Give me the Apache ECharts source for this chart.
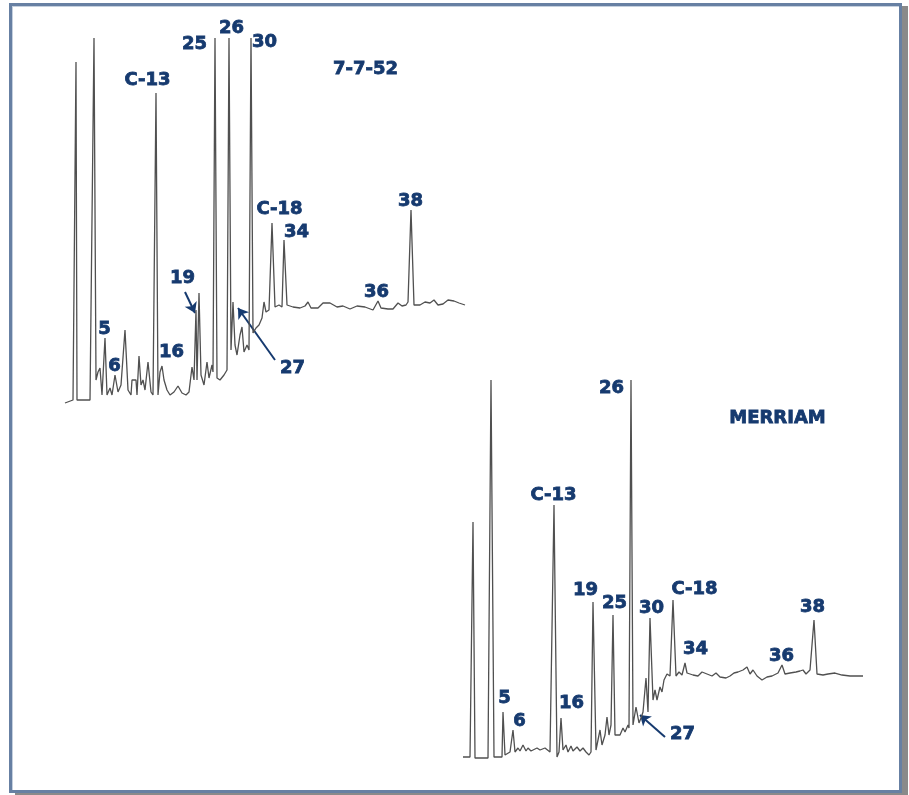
<!DOCTYPE html>
<html>
<head>
<meta charset="utf-8">
<script src="https://cdn.jsdelivr.net/npm/echarts@6/dist/echarts.min.js"></script>
<style>
  html, body { margin: 0; padding: 0; background: #fff; }
  #chart { position: absolute; left: 0; top: 0; width: 909px; height: 795px; }
  #frame {
    position: absolute; left: 9px; top: 3px; width: 887px; height: 784px;
    border: 3px solid #6780a3; box-shadow: 6px 3px 0 #8a8a8a, inset 1px 1px 0 #c5d0de;
    pointer-events: none;
  }
</style>
</head>
<body>
<div id="frame"></div>
<div id="chart"></div>
<script>
// Upper chromatogram (sample 7-7-52): [retention, response]
const topTrace = [[5,2],[13,5],[15,5],[16,343],[17,5],[30,5],[32,5],[34,367],[36,25],[38,33],[40,37],[42,10],[45,67],[47,10],[50,17],[52,10],[55,30],[58,13],[61,20],[65,75],[68,15],[71,10],[72,25],[76,25],[77,10],[79,49],[81,20],[83,25],[85,15],[88,43],[91,13],[93,10],[96,312],[98,10],[100,33],[102,39],[104,25],[107,15],[110,10],[114,13],[118,19],[122,12],[126,10],[129,13],[132,38],[134,25],[136,95],[137,25],[139,112],[141,30],[144,20],[147,43],[149,27],[152,40],[153,33],[155,367],[157,27],[160,25],[164,30],[167,35],[169,367],[171,55],[173,103],[175,60],[177,50],[180,70],[182,78],[184,53],[187,60],[189,55],[191,367],[193,72],[196,77],[199,80],[202,87],[204,103],[206,93],[209,95],[212,182],[215,98],[219,100],[222,98],[224,165],[227,100],[233,98],[240,97],[245,99],[248,103],[251,97],[258,97],[263,102],[270,102],[277,98],[283,99],[290,96],[297,99],[305,98],[313,95],[318,104],[321,97],[328,96],[333,96],[338,102],[342,99],[346,100],[348,103],[351,195],[354,100],[360,100],[365,103],[370,102],[374,105],[378,100],[383,101],[388,105],[394,104],[399,102],[405,100]];

// Lower chromatogram (MERRIAM): [retention, response]
const bottomTrace = [[8,3],[15,3],[17,3],[18,238],[20,2],[33,2],[34,3],[36,380],[39,3],[47,3],[48,48],[50,5],[55,8],[57,8],[58,30],[60,8],[63,12],[65,9],[68,15],[71,9],[73,12],[76,9],[78,10],[82,12],[85,10],[90,12],[95,8],[97,8],[99,255],[102,3],[104,8],[106,42],[108,10],[111,15],[113,8],[116,14],[118,9],[122,13],[125,9],[128,12],[131,8],[134,5],[136,8],[138,158],[141,10],[143,12],[145,30],[147,15],[150,25],[152,43],[154,25],[156,35],[158,145],[160,25],[162,23],[165,25],[168,32],[170,28],[173,35],[174,32],[176,380],[178,35],[181,53],[184,37],[186,42],[188,48],[191,82],[193,48],[195,142],[198,60],[200,70],[202,60],[205,73],[207,68],[209,80],[212,86],[215,84],[218,160],[221,84],[224,88],[227,85],[230,97],[232,87],[238,85],[243,84],[247,88],[252,86],[257,84],[261,87],[265,83],[271,82],[275,84],[279,87],[283,88],[288,90],[292,93],[295,86],[298,90],[302,84],[307,80],[312,83],[317,84],[323,87],[327,95],[330,86],[335,87],[341,88],[345,89],[348,90],[351,86],[355,90],[359,140],[362,86],[368,85],[373,86],[380,87],[387,85],[395,84],[408,84]];

// Peak labels (text and anchor position in data units)
const topLabelText = ['5','6','C-13','16','19','25','26','30','C-18','34','36','38','27','7-7-52'];
const topLabelX = [45,55,88,112,123,135,172,205,220,237,317,351,233,306];
const topLabelY = [77,40,326,54,128,362,378,364,197,174,114,205,38,337];

const bottomLabelText = ['5','6','C-13','16','19','25','26','30','C-18','34','36','38','27','MERRIAM'];
const bottomLabelX = [50,65,99,117,131,160,157,197,240,241,327,358,228,323];
const bottomLabelY = [63,40,266,58,171,158,373,153,172,112,105,154,27,343];

// Pointer arrows: [from, to]
const topArrows = [[[125,113],[135,92]], [[215,45],[178,97]]];
const bottomArrows = [[[210,23],[185,45]]];

const TEXT = '#163a6f';
const TRACE = '#505050';

function labelData(t, xs, ys) {
  return t.map((s, i) => ({ name: s, value: [xs[i], ys[i]] }));
}
function labelSeries(idx, t, xs, ys) {
  return {
    type: 'scatter', xAxisIndex: idx, yAxisIndex: idx, z: 10,
    symbolSize: 1, itemStyle: { color: 'transparent', opacity: 1 }, silent: true,
    data: labelData(t, xs, ys),
    label: { show: true, position: [0, 0], offset: [0, 2], align: 'center', verticalAlign: 'middle',
      formatter: '{b}', color: TEXT, opacity: 1,
      fontFamily: 'DejaVu Sans', fontWeight: 'bold', fontSize: 18,
      textBorderColor: TEXT, textBorderWidth: 0.8 }
  };
}
function arrowSeries(idx, arr) {
  return {
    type: 'lines', coordinateSystem: 'cartesian2d', xAxisIndex: idx, yAxisIndex: idx,
    symbol: ['none', 'arrow'], symbolSize: 10, silent: true,
    lineStyle: { color: TEXT, width: 2, opacity: 1 },
    data: arr.map(a => ({ coords: a }))
  };
}
function traceSeries(idx, d) {
  return {
    type: 'line', xAxisIndex: idx, yAxisIndex: idx, data: d, showSymbol: false,
    clip: false, silent: true, lineStyle: { color: TRACE, width: 1.3 }
  };
}

const chart = echarts.init(document.getElementById('chart'), null, { renderer: 'canvas' });
chart.setOption({
  animation: false,
  backgroundColor: 'transparent',
  grid: [
    { left: 60, top: 15, width: 410, height: 390 },
    { left: 455, top: 360, width: 410, height: 400 }
  ],
  xAxis: [
    { type: 'value', gridIndex: 0, min: 0, max: 410, show: false },
    { type: 'value', gridIndex: 1, min: 0, max: 410, show: false }
  ],
  yAxis: [
    { type: 'value', gridIndex: 0, min: 0, max: 390, show: false },
    { type: 'value', gridIndex: 1, min: 0, max: 400, show: false }
  ],
  series: [
    traceSeries(0, topTrace),
    traceSeries(1, bottomTrace),
    arrowSeries(0, topArrows),
    arrowSeries(1, bottomArrows),
    labelSeries(0, topLabelText, topLabelX, topLabelY),
    labelSeries(1, bottomLabelText, bottomLabelX, bottomLabelY)
  ]
});
</script>
</body>
</html>
